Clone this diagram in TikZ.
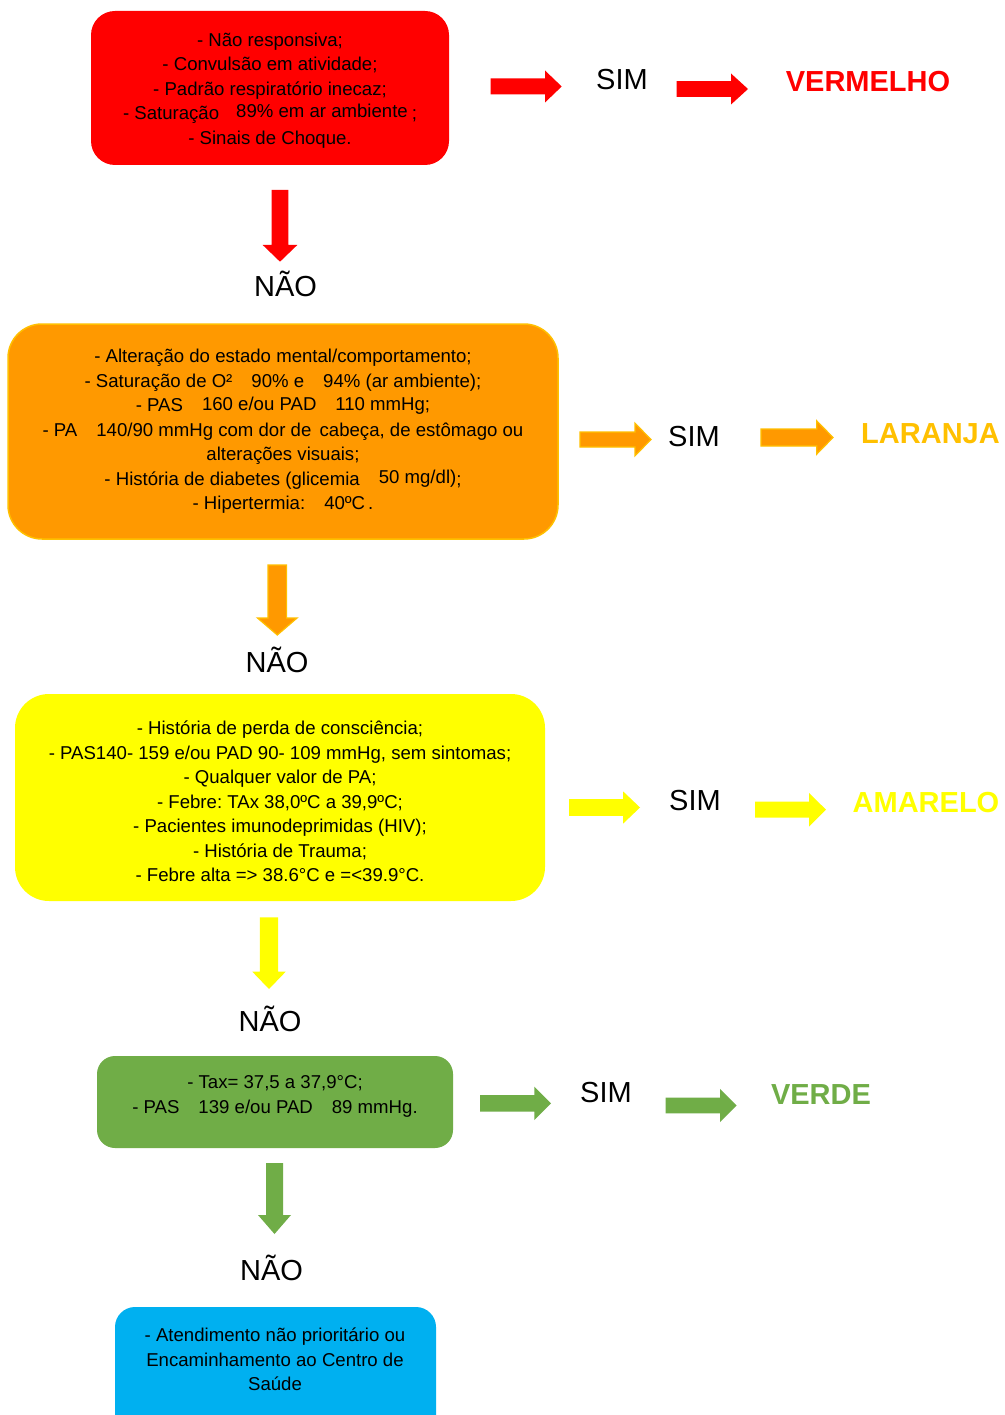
\documentclass[tikz,border=0pt]{standalone}
\usepackage{fontspec}
\setmainfont{Liberation Sans}
\frenchspacing
\definecolor{cRed}{HTML}{FF0000}
\definecolor{cOrange}{HTML}{FF9900}
\definecolor{cGold}{HTML}{FFC000}
\definecolor{cYellow}{HTML}{FFFF00}
\definecolor{cGreen}{HTML}{70AD47}
\definecolor{cBlue}{HTML}{00B0F0}
% block arrow pointing right: [style]{x start}{x head}{x tip}{y centre}{half shaft}{half head}
\newcommand\blockR[7][]{\filldraw[#1] (#2,#5-#6) -- (#3,#5-#6) -- (#3,#5-#7) -- (#4,#5) -- (#3,#5+#7) -- (#3,#5+#6) -- (#2,#5+#6) -- cycle;}
% block arrow pointing down: [style]{x centre}{y start}{y head}{y tip}{half shaft}{half head}
\newcommand\blockD[7][]{\filldraw[#1] (#2-#6,#3) -- (#2-#6,#4) -- (#2-#7,#4) -- (#2,#5) -- (#2+#7,#4) -- (#2+#6,#4) -- (#2+#6,#3) -- cycle;}
\newcommand\gap[1][19pt]{\hspace*{#1}}
\tikzset{
  box/.style={inner sep=0pt},
  body/.style={align=center, font=\fontsize{18.6}{24.5}\selectfont\frenchspacing, text=black, inner sep=0pt},
  answer/.style={anchor=base, font=\fontsize{29}{32}\selectfont, text=black, inner sep=0pt},
  level/.style={anchor=base, font=\fontsize{29}{32}\selectfont\bfseries, inner sep=0pt},
}
\begin{document}
\begin{tikzpicture}[x=1pt, y=-1pt]
\useasboundingbox (0,0) rectangle (1004,1415);
\clip (0,0) rectangle (1004,1415);
\fill[white] (0,0) rectangle (1004,1415);

% ---------- red level ----------
\node[box, fill=cRed, rounded corners=24pt, minimum width=358pt, minimum height=154pt] (rbox) at (270,88) {};
\node[body] (rtext) at (270,90.5) {- Não responsiva;\\
- Convulsão em atividade;\\
- Padrão respiratório inecaz;\\
- Saturação\gap[17pt]\raisebox{2pt}{89\% em ar ambiente}\gap[4pt];\\
- Sinais de Choque.};
\blockR[fill=cRed, draw=none]{490.7}{545}{561.7}{86.5}{8}{16}
\node[answer] (sim1) at (622,89.5) {SIM};
\blockR[fill=cRed, draw=none]{676.7}{731}{748}{89}{7.8}{15.5}
\node[level, text=cRed] (lvl1) at (868,92) {VERMELHO};
\blockD[fill=cRed, draw=none]{280}{190}{245}{261.7}{8.3}{17.3}
\node[answer] (nao1) at (285.5,296) {NÃO};

% ---------- orange level ----------
\node[box, fill=cOrange, draw=cGold, line width=1.5pt, rounded corners=34pt, minimum width=550pt, minimum height=215pt] (obox) at (283,431.5) {};
\node[body] (otext) at (283,431.5) {- Alteração do estado mental/comportamento;\\
- Saturação de O²\gap90\% e\gap94\% (ar ambiente);\\
- PAS\gap\raisebox{1.5pt}{160 e/ou PAD}\gap\raisebox{1.5pt}{110 mmHg;}\\
- PA\gap140/90 mmHg com dor de\, cabeça, de estômago ou\\
alterações visuais;\\
- História de diabetes (glicemia\gap\raisebox{2pt}{50 mg/dl)};\\
- Hipertermia:\gap40ºC\gap[3pt].};
\blockR[fill=cOrange, draw=cGold, line width=1.2pt]{580}{635}{651}{439.5}{7.5}{16.3}
\node[answer] (sim2) at (694,446) {SIM};
\blockR[fill=cOrange, draw=cGold, line width=1.2pt]{761}{816.7}{833}{437.5}{8.5}{16.7}
\node[level, text=cGold] (lvl2) at (930.5,443.5) {LARANJA};
\blockD[fill=cOrange, draw=cGold, line width=1.2pt]{277.3}{565}{618}{635}{9.3}{19.8}
\node[answer] (nao2) at (277,672) {NÃO};

% ---------- yellow level ----------
\node[box, fill=cYellow, rounded corners=34pt, minimum width=530pt, minimum height=207pt] (ybox) at (280,797.5) {};
\node[body] (ytext) at (280,801.5) {- História de perda de consciência;\\
- PAS140- 159 e/ou PAD 90- 109 mmHg, sem sintomas;\\
- Qualquer valor de PA;\\
- Febre: TAx 38,0ºC a 39,9ºC;\\
- Pacientes imunodeprimidas (HIV);\\
- História de Trauma;\\
- Febre alta => 38.6°C e =<39.9°C.};
\blockR[fill=cYellow, draw=none]{569}{623}{640}{807.5}{8.3}{16.2}
\node[answer] (sim3) at (695,810) {SIM};
\blockR[fill=cYellow, draw=none]{755}{809}{826}{809.7}{8}{16.8}
\node[level, text=cYellow] (lvl3) at (926,812) {AMARELO};
\blockD[fill=cYellow, draw=none]{269}{917.3}{971.7}{989}{9.2}{16.7}
\node[answer] (nao3) at (270,1031) {NÃO};

% ---------- green level ----------
\node[box, fill=cGreen, rounded corners=18pt, minimum width=356pt, minimum height=92pt] (gbox) at (275,1102) {};
\node[body] (gtext) at (275,1096.5) {- Tax= 37,5 a 37,9°C;\\
- PAS\gap139 e/ou PAD\gap89 mmHg.};
\blockR[fill=cGreen, draw=none]{480}{534.3}{551}{1103.3}{8.3}{16.7}
\node[answer] (sim4) at (606,1102) {SIM};
\blockR[fill=cGreen, draw=none]{665.7}{720}{736.7}{1105.5}{7.8}{16.7}
\node[level, text=cGreen] (lvl4) at (821,1104.5) {VERDE};
\blockD[fill=cGreen, draw=none]{274.5}{1163}{1215}{1234}{8.5}{16.5}
\node[answer] (nao4) at (271.5,1280) {NÃO};

% ---------- blue outcome ----------
\node[box, fill=cBlue, rounded corners=20pt, minimum width=321pt, minimum height=150pt] (bbox) at (275.5,1382) {};
\node[body] (btext) at (275,1359.5) {- Atendimento não prioritário ou\\
Encaminhamento ao Centro de\\
Saúde};
\end{tikzpicture}
\end{document}
